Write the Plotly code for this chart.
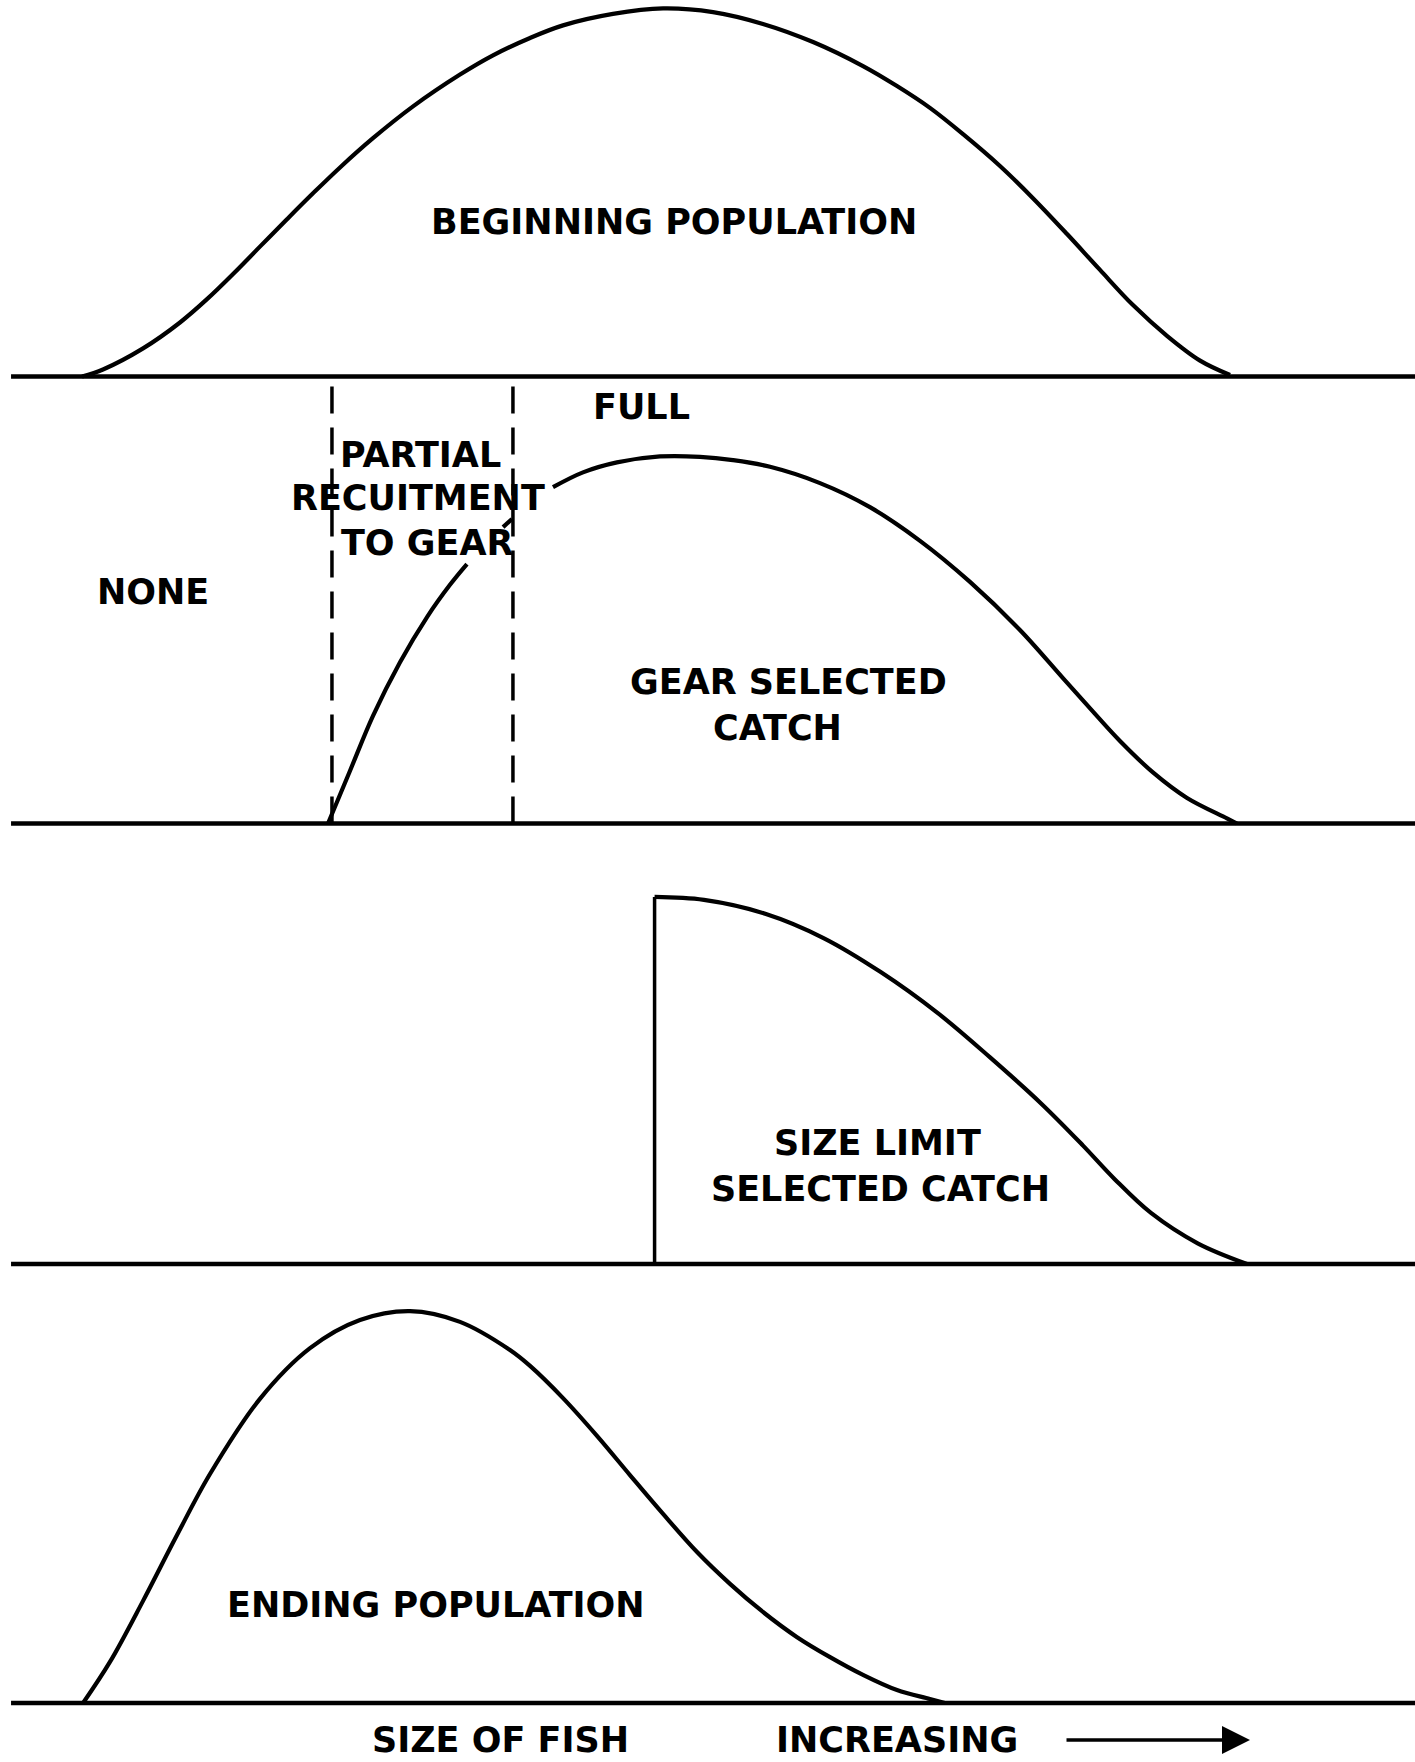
import plotly.graph_objects as go

# ---------------- data ----------------
# x: size of fish on a 0-100 relative scale; y: relative numbers (same scale in every panel)
begin_size = [5.80, 7.28, 10.11, 12.72, 14.63, 16.47, 18.37, 20.28, 22.12, 24.03, 26.36, 29.19,
              32.51, 34.84, 37.46, 39.79, 43.32, 46.86, 50.39, 53.92, 57.46, 60.99, 63.39, 65.72,
              68.06, 70.67, 73.00, 75.41, 77.74, 80.07, 82.47, 84.81, 86.93]
begin_pop = [0.0, 1.9, 7.6, 14.6, 20.9, 27.7, 35.1, 42.5, 49.5, 56.5, 64.4, 73.0,
             81.6, 86.8, 91.5, 94.9, 98.0, 99.5, 98.5, 95.3, 90.4, 83.9, 78.5, 72.6,
             65.5, 56.9, 48.2, 38.5, 28.8, 19.3, 11.0, 4.3, 0.4]

# gear selected catch (None = where the curve is hidden by the label)
gear_size = [23.18, 24.73, 26.36, 28.27, 30.18, 31.80, 33.00, None,
             35.55, 36.18, None,
             39.08, 41.20, 43.60, 46.64, 49.47, 51.80, 54.42, 57.95, 61.48, 65.02, 68.55,
             72.08, 75.12, 77.53, 79.15, 81.48, 83.89, 86.71, 87.42]
gear_catch = [0.0, 14.2, 29.1, 43.6, 55.8, 64.5, 70.1, None,
              80.1, 82.3, None,
              90.9, 94.9, 97.6, 99.2, 99.1, 98.2, 96.4, 92.0, 85.5, 76.4, 65.3,
              52.3, 39.3, 29.0, 22.3, 13.8, 6.9, 1.4, 0.0]
recruit_bounds = [23.46, 36.25]      # start / end of partial recruitment to gear

size_limit_size = [46.26, 46.26, 49.75, 54.13, 58.20, 62.24, 66.28, 69.95, 73.63, 76.54,
                   78.76, 81.34, 84.64, 88.13]
size_limit_catch = [0.0, 99.2, 98.4, 94.6, 88.1, 78.9, 67.8, 55.9, 43.2, 32.0,
                    23.0, 13.8, 5.6, 0.0]

end_size = [5.87, 7.77, 10.11, 12.51, 14.84, 18.37, 21.91, 25.44, 28.98, 32.51, 36.04, 37.46,
            39.79, 42.19, 44.52, 46.86, 49.26, 51.59, 53.92, 56.33, 58.66, 60.99, 63.39, 65.72, 66.78]
end_pop = [0.0, 11.1, 27.6, 45.4, 61.9, 82.2, 95.9, 103.5, 105.9, 103.0, 95.4, 91.1,
           82.4, 72.2, 61.6, 51.1, 40.8, 32.2, 24.6, 17.8, 12.4, 7.6, 3.5, 1.1, 0.0]

baseline_size = [0.78, 100.0]

# ---------------- layout geometry ----------------
W, H = 1415, 1762
PX_PER_Y = 3.7                      # pixels per abundance unit
PAD = 8                             # room below each baseline (px)
panels = [(0, 376.5), (376.5, 823.5), (823.5, 1264), (1264, 1703)]   # (top, baseline) in px

INK = "black"
FONT = dict(family="DejaVu Sans", size=35, color=INK, weight="bold")

fig = go.Figure()
layout_axes = {}
for i, (top, base) in enumerate(panels, start=1):
    sfx = "" if i == 1 else str(i)
    layout_axes["xaxis" + sfx] = dict(domain=[0, 1], range=[0, 100], visible=False,
                                      anchor="y" + sfx, fixedrange=True)
    layout_axes["yaxis" + sfx] = dict(domain=[1 - (base + PAD) / H, 1 - top / H],
                                      range=[-PAD / PX_PER_Y, (base - top) / PX_PER_Y],
                                      visible=False, anchor="x" + sfx, fixedrange=True)
    # baseline (size axis)
    fig.add_trace(go.Scatter(x=baseline_size, y=[0, 0], mode="lines",
                             line=dict(color=INK, width=4.5),
                             xaxis="x" + sfx, yaxis="y" + sfx, hoverinfo="skip"))

line_kw = dict(color=INK, width=4.2, shape="spline", smoothing=1.0)

fig.add_trace(go.Scatter(x=begin_size, y=begin_pop, mode="lines", line=line_kw,
                         xaxis="x", yaxis="y", name="Beginning population"))

fig.add_trace(go.Scatter(x=gear_size, y=gear_catch, mode="lines", line=line_kw,
                         xaxis="x2", yaxis="y2", name="Gear selected catch", connectgaps=False))
top2 = (panels[1][1] - panels[1][0]) / PX_PER_Y
for b in recruit_bounds:
    fig.add_trace(go.Scatter(x=[b, b], y=[0, top2], mode="lines",
                             line=dict(color=INK, width=3.5, dash="27px,14px"),
                             xaxis="x2", yaxis="y2", hoverinfo="skip"))

fig.add_trace(go.Scatter(x=size_limit_size[:2], y=size_limit_catch[:2], mode="lines",
                         line=dict(color=INK, width=3.5),
                         xaxis="x3", yaxis="y3", name="Size limit"))
fig.add_trace(go.Scatter(x=size_limit_size[1:], y=size_limit_catch[1:], mode="lines", line=line_kw,
                         xaxis="x3", yaxis="y3", name="Size limit selected catch"))

fig.add_trace(go.Scatter(x=end_size, y=end_pop, mode="lines", line=line_kw,
                         xaxis="x4", yaxis="y4", name="Ending population"))

def lab(text, x, y, ax="x", ay="y", yanchor="middle"):
    return dict(text=text, x=x, y=y, xref=ax, yref=ay, showarrow=False,
                font=FONT, xanchor="center", yanchor=yanchor)

annotations = [
    lab("BEGINNING POPULATION", 47.63, 41.8, "x", "y"),
    lab("FULL", 45.37, 112.6, "x2", "y2"),
    lab("PARTIAL", 29.75, 99.6, "x2", "y2"),
    lab("RECUITMENT", 29.54, 88.0, "x2", "y2"),
    lab("TO GEAR", 30.18, 75.8, "x2", "y2"),
    lab("NONE", 10.81, 62.6, "x2", "y2"),
    lab("GEAR SELECTED", 55.69, 38.2, "x2", "y2"),
    lab("CATCH", 54.98, 25.8, "x2", "y2"),
    lab("SIZE LIMIT", 61.98, 32.7, "x3", "y3"),
    lab("SELECTED CATCH", 62.26, 20.3, "x3", "y3"),
    lab("ENDING POPULATION", 30.81, 26.5, "x4", "y4"),
    lab("SIZE OF FISH", 501 / W, 0.0, "paper", "paper", "bottom"),
    lab("INCREASING", 897 / W, 0.0, "paper", "paper", "bottom"),
    dict(text="", x=1250 / W, y=1 - 1740 / H, xref="paper", yref="paper",
         ax=-185, ay=0, axref="pixel", ayref="pixel", showarrow=True,
         arrowhead=2, arrowsize=1.6, arrowwidth=3.5, arrowcolor=INK),
]

fig.update_layout(
    width=W, height=H,
    margin=dict(l=0, r=0, t=0, b=0),
    paper_bgcolor="white", plot_bgcolor="rgba(0,0,0,0)",
    showlegend=False,
    annotations=annotations,
    **layout_axes,
)

fig.write_html("out.html",
               config={"displayModeBar": False, "staticPlot": True},
               post_script="document.body.style.margin='0';document.body.style.padding='0';")
